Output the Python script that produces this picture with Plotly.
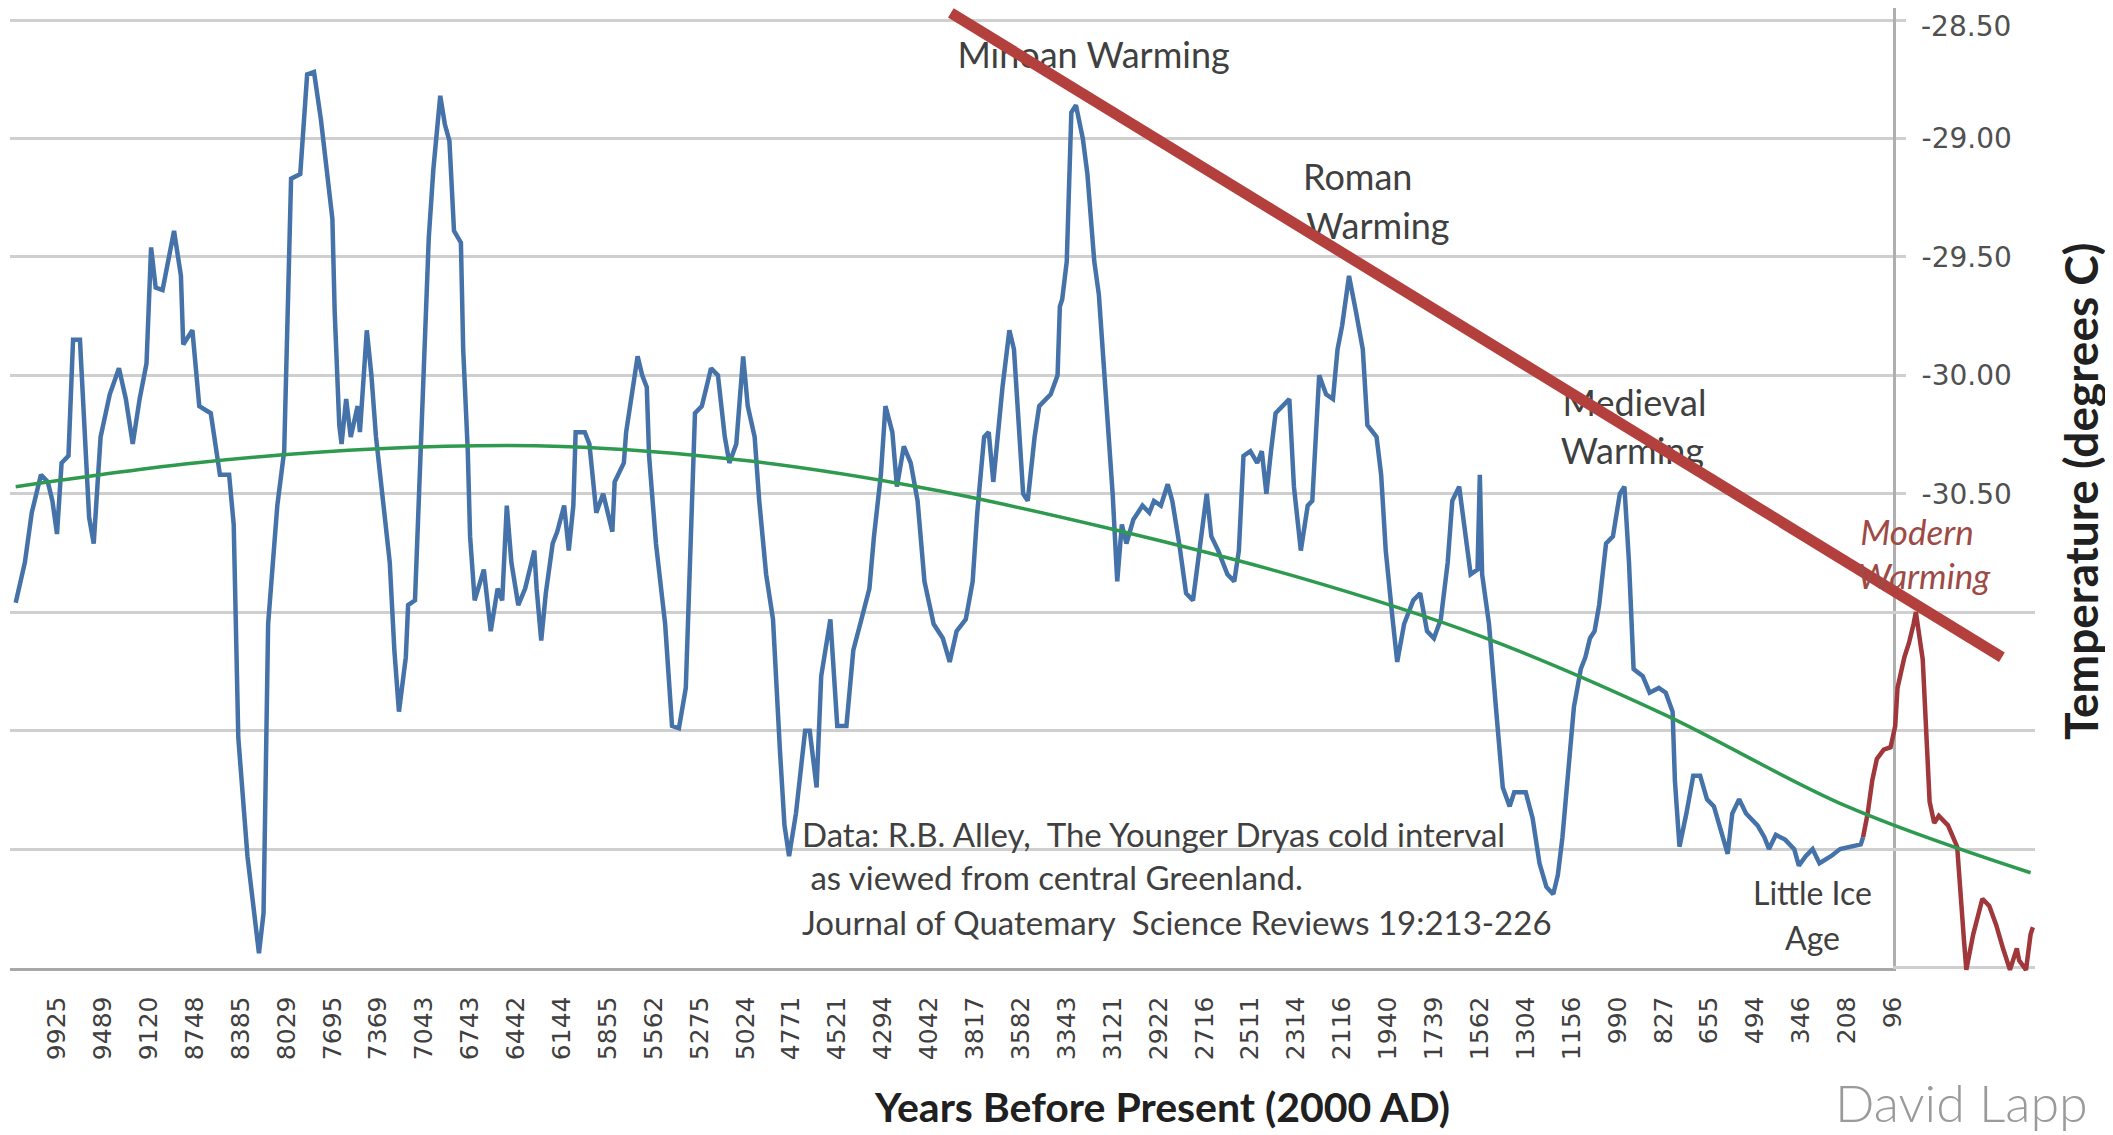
import plotly.graph_objects as go

W, H = 2113, 1135
OFF = 8  # the page body has an 8px margin

# category labels on the x axis (years before present), one every 20 samples
year_labels = ["9925", "9489", "9120", "8748", "8385", "8029", "7695", "7369", "7043", "6743",
               "6442", "6144", "5855", "5562", "5275", "5024", "4771", "4521", "4294", "4042",
               "3817", "3582", "3343", "3121", "2922", "2716", "2511", "2314", "2116", "1940",
               "1739", "1562", "1304", "1156", "990", "827", "655", "494", "346", "208", "96"]

# GISP2 temperature series (sample number along the category axis, degrees C)
blue_sample = [2, 6, 9, 13, 16, 18, 20, 22, 25, 27, 30, 32, 34, 36, 39, 43, 47, 50, 53, 56,
               59, 61, 63, 66, 71, 74, 75, 79, 82, 87, 91, 95, 97, 99, 103, 108, 110, 112, 116, 119,
               122, 126, 129, 132, 135,
               140, 141, 143, 144, 146, 148, 151, 152, 155, 157, 159, 161, 165, 167, 169, 172, 173, 176, 178, 180,
               182, 184, 187, 189, 191, 193, 196, 197, 199, 200, 202, 206, 209, 212, 214, 216, 218, 221, 224, 228,
               229, 231, 233, 236, 238, 241, 243, 245, 246, 250, 252, 255, 258, 262, 263, 267, 268, 273, 275,
               277, 278, 281, 285, 288, 291, 294, 296, 298, 301, 305, 308, 311, 313, 316, 319, 321, 324, 326, 329,
               332, 335, 337, 339, 342, 346, 348, 351, 353, 357, 360, 364, 367, 370, 374, 376, 379, 381, 384, 386,
               389, 392, 395, 398, 402, 406, 409, 412, 416,
               419, 421, 424, 426, 428, 432, 435, 437, 441, 443, 446, 448, 453, 456, 457, 458, 460, 462, 464, 467,
               469, 472, 474, 477, 480, 482, 484, 486, 489, 493, 496, 498, 501, 504, 506, 509, 512, 515, 518, 521,
               523, 526, 530, 533, 535, 537, 540, 543, 545, 547, 549, 551, 554, 557,
               559, 562, 565, 567, 570, 573, 576, 578, 580, 583, 586, 589, 591, 595, 597, 599, 602, 604, 607, 611,
               614, 617, 620, 623, 626, 628, 631, 634, 636, 639, 640, 641, 644, 647, 650, 653, 655, 660, 663, 666,
               669, 672, 674, 676, 679, 681, 684, 686, 688, 690, 692,
               695, 698, 701, 703, 705, 707, 711, 714, 718, 721, 724, 725, 727, 730, 733, 736, 739, 742, 745, 748,
               750, 753, 756, 761, 764, 766, 769, 773, 777, 779, 782, 785, 788, 793, 797, 801, 806, 807]
blue_temp = [-30.96, -30.79, -30.58, -30.42, -30.45, -30.53, -30.67, -30.37, -30.34, -29.85,
             -29.85, -30.26, -30.60, -30.71, -30.26, -30.08, -29.97, -30.10, -30.29, -30.10,
             -29.95, -29.46, -29.63, -29.64, -29.39, -29.58, -29.87, -29.81, -30.13, -30.16,
             -30.42, -30.42, -30.63, -31.53, -32.03, -32.44, -32.27, -31.05, -30.55, -30.32,
             -29.17, -29.15, -28.73, -28.72, -28.92,
             -29.34, -29.73, -30.21, -30.29, -30.10, -30.26, -30.13, -30.24, -29.81, -30.00,
             -30.26, -30.45, -30.79, -31.16, -31.42, -31.19, -30.97, -30.95, -30.47, -30.00,
             -29.42, -29.13, -28.82, -28.94, -29.01, -29.39, -29.44, -29.89, -30.32, -30.68,
             -30.95, -30.82, -31.08, -30.90, -30.95, -30.55, -30.79, -30.97, -30.90, -30.74,
             -30.90, -31.12, -30.92, -30.71, -30.66, -30.55, -30.74, -30.55, -30.24, -30.24,
             -30.29, -30.58, -30.50, -30.66, -30.45, -30.37, -30.24, -29.92, -30.00,
             -30.05, -30.34, -30.71, -31.05, -31.48, -31.49, -31.32, -30.79, -30.16, -30.13,
             -29.97, -30.00, -30.26, -30.37, -30.29, -29.92, -30.13, -30.26, -30.53, -30.84,
             -31.03, -31.58, -31.90, -32.03, -31.85, -31.50, -31.50, -31.74, -31.27, -31.03,
             -31.48, -31.48, -31.16, -31.05, -30.90, -30.68, -30.42, -30.13, -30.24, -30.47,
             -30.30, -30.37, -30.53, -30.87, -31.05, -31.11, -31.21, -31.08, -31.03,
             -30.87, -30.58, -30.26, -30.24, -30.45, -30.05, -29.81, -29.89, -30.50, -30.53,
             -30.26, -30.13, -30.08, -30.00, -29.71, -29.68, -29.52, -28.89, -28.86, -29.00,
             -29.15, -29.52, -29.66, -30.10, -30.50, -30.87, -30.63, -30.71, -30.61, -30.55,
             -30.58, -30.53, -30.55, -30.46, -30.53, -30.71, -30.92, -30.95, -30.74, -30.50,
             -30.68, -30.74, -30.84, -30.87, -30.74, -30.34, -30.32, -30.37, -30.32, -30.50,
             -30.32, -30.16, -30.13, -30.10,
             -30.47, -30.74, -30.55, -30.53, -30.00, -30.08, -30.10, -29.89, -29.79, -29.58,
             -29.73, -29.89, -30.21, -30.26, -30.42, -30.74, -31.03, -31.21, -31.05, -30.95,
             -30.92, -31.08, -31.11, -31.03, -30.79, -30.53, -30.47, -30.71, -30.84, -30.82,
             -30.42, -30.84, -31.05, -31.40, -31.74, -31.82, -31.76, -31.76, -31.87, -32.06,
             -32.16, -32.19, -32.11, -31.95, -31.63, -31.40, -31.24, -31.19, -31.11, -31.08,
             -30.97,
             -30.71, -30.68, -30.50, -30.47, -30.79, -31.24, -31.27, -31.34, -31.32, -31.34,
             -31.42, -31.71, -31.99, -31.85, -31.69, -31.69, -31.79, -31.82, -31.92, -32.02,
             -31.85, -31.79, -31.85, -31.90, -31.95, -32.00, -31.94, -31.96, -32.00, -32.07,
             -32.03, -32.00, -32.06, -32.03, -32.00, -31.99, -31.98, -31.95]

# modern warming segment (red)
modern_sample = [807, 809, 811, 813, 816, 819, 821, 822, 825, 827, 829, 830, 833, 836, 838,
                 840, 844, 848, 851, 852, 855, 859, 862, 865, 868, 871, 874, 875, 878, 880, 881]
modern_temp = [-31.95, -31.85, -31.71, -31.62, -31.58, -31.57, -31.48, -31.32, -31.19, -31.13,
               -31.05, -31.00, -31.20, -31.80, -31.89, -31.86, -31.90, -31.99, -32.39, -32.51,
               -32.36, -32.21, -32.24, -32.32, -32.42, -32.51, -32.42, -32.47, -32.51, -32.36, -32.33]

# green trend curve
trend_sample = [2, 80, 160, 240, 320, 400, 480, 560, 640, 720, 800, 880]
trend_temp = [-30.47, -30.37, -30.31, -30.30, -30.36, -30.48, -30.65, -30.85, -31.10, -31.43, -31.82, -32.10]

# red line through the warming peaks
peak_sample = [409.5, 867.5]
peak_temp = [-28.47, -31.19]

temp_ticks = [-28.5, -29.0, -29.5, -30.0, -30.5, -31.0, -31.5, -32.0, -32.5]

FIG_W, FIG_H = W - OFF, H - OFF


def px(x):
    return (x - OFF) / FIG_W


def py(y):
    return 1 - (y - OFF) / FIG_H


BLUE = "#4572A8"
GREEN = "#2E9A50"
RED = "#B3403D"
DARK_RED = "#A0373A"
GRID = "#CFCFCF"
TEXT = "#404040"
TICK_FONT = dict(family="DejaVu Sans", size=28, color="#505050")

fig = go.Figure()

# period labels sit under the red peak line
fig.add_trace(go.Scatter(
    x=[471.7, 586.8, 595.6, 707.4, 706.5],
    y=[-28.666, -29.18, -29.385, -30.135, -30.335],
    text=["Minoan Warming", "Roman", "Warming", "Medieval", "Warming"],
    mode="text", textposition="middle center", cliponaxis=False, hoverinfo="skip",
    textfont=dict(family="Lato, sans-serif", size=36, color=TEXT)))

fig.add_trace(go.Scatter(x=blue_sample, y=blue_temp, mode="lines",
                         line=dict(color=BLUE, width=4.5), hoverinfo="skip"))
fig.add_trace(go.Scatter(x=modern_sample, y=modern_temp, mode="lines",
                         line=dict(color=DARK_RED, width=4.5), hoverinfo="skip"))
fig.add_trace(go.Scatter(x=trend_sample, y=trend_temp, mode="lines",
                         line=dict(color=GREEN, width=3.5, shape="spline"), hoverinfo="skip"))
fig.add_trace(go.Scatter(x=peak_sample, y=peak_temp, mode="lines",
                         line=dict(color=RED, width=11), hoverinfo="skip"))

# pasted-on modern extension panel
fig.add_trace(go.Scatter(
    x=[830.5, 833.5], y=[-30.68, -30.865], text=["Modern", "Warming"],
    mode="text", textposition="middle center", cliponaxis=False, hoverinfo="skip",
    textfont=dict(family="Lato, sans-serif", size=35, color="#9E4A46", style="italic"),
    xaxis="x2", yaxis="y2"))
fig.add_trace(go.Scatter(x=modern_sample, y=modern_temp, mode="lines",
                         line=dict(color=DARK_RED, width=4.5), hoverinfo="skip",
                         xaxis="x2", yaxis="y2"))
fig.add_trace(go.Scatter(x=trend_sample, y=trend_temp, mode="lines",
                         line=dict(color=GREEN, width=3.5, shape="spline"), hoverinfo="skip",
                         xaxis="x2", yaxis="y2"))
fig.add_trace(go.Scatter(x=peak_sample, y=peak_temp, mode="lines",
                         line=dict(color=RED, width=11), hoverinfo="skip",
                         xaxis="x2", yaxis="y2"))

annotations = [
    # top temperature label sits a little below its gridline, as in the original
    dict(x=px(1919), y=py(26), text=f"{temp_ticks[0]:.2f}", xanchor="left", font=TICK_FONT),
    dict(x=px(800), y=py(834), text="Data: R.B. Alley,\u00a0 The Younger Dryas cold interval",
         xanchor="left", font=dict(size=33)),
    dict(x=px(800), y=py(877), text="\u00a0as viewed from central Greenland.",
         xanchor="left", font=dict(size=33)),
    dict(x=px(800), y=py(922), text="Journal of Quatemary\u00a0 Science Reviews 19:213-226",
         xanchor="left", font=dict(size=33)),
    dict(x=px(1812.5), y=py(892), text="Little Ice", font=dict(size=32)),
    dict(x=px(1812.5), y=py(937), text="Age", font=dict(size=32)),
    dict(x=px(1161.6), y=py(1106), text="Years Before Present (2000 AD)",
         font=dict(size=41, color="#202020", weight=700)),
    dict(x=px(2080), y=py(492), text="Temperature (degrees C)", textangle=-90,
         font=dict(size=46, color="#202020", weight=700)),
    dict(x=px(1833), y=py(1102), text="David Lapp", xanchor="left",
         font=dict(size=52, color="#9A9A9A", weight=300)),
]
for a in annotations:
    a.setdefault("xanchor", "center")
    a["font"] = dict(dict(family="Lato, sans-serif", color=TEXT), **a["font"])
    a.update(xref="paper", yref="paper", yanchor="middle", showarrow=False)

fig.update_layout(
    template="none",
    width=FIG_W, height=FIG_H, autosize=False,
    margin=dict(l=0, r=0, t=0, b=0),
    paper_bgcolor="white", plot_bgcolor="white",
    showlegend=False,
    font=dict(family="Lato, sans-serif", color=TEXT),
    annotations=annotations,
    xaxis=dict(domain=[px(10), px(1893)], range=[-0.48, 820.04], automargin=False,
               tickmode="array", tickvals=[20 * (i + 1) for i in range(len(year_labels))],
               ticktext=year_labels, tickangle=-90, ticks="", ticklabelstandoff=16,
               tickfont=dict(family="DejaVu Sans", size=25, color=TEXT),
               showgrid=False, zeroline=False,
               showline=True, linecolor="#A8A8A8", linewidth=3),
    yaxis=dict(domain=[py(967.5), py(8)], range=[-32.5, -28.4493], automargin=False,
               side="right", tickmode="array", tickvals=temp_ticks,
               ticktext=[f"{v:.2f}" if -30.5 <= v < -28.5 else "" for v in temp_ticks],
               ticks="outside", ticklen=10, tickwidth=3, tickcolor=GRID, ticklabelstandoff=10,
               tickfont=TICK_FONT,
               showgrid=True, gridcolor=GRID, gridwidth=3, zeroline=False,
               showline=True, linecolor="#AFAFAF", linewidth=3),
    xaxis2=dict(domain=[px(1893), px(2035)], range=[820.04, 881.92], anchor="y2",
                visible=False, automargin=False),
    yaxis2=dict(domain=[py(985), py(8)], range=[-32.5739, -28.4493], anchor="x2",
                tickmode="array", tickvals=[-31.0, -31.5, -32.0, -32.5], showticklabels=False,
                ticks="", showgrid=True, gridcolor=GRID, gridwidth=3, zeroline=False,
                showline=False, automargin=False),
)

fig.write_html("out.html", config={"displayModeBar": False})
